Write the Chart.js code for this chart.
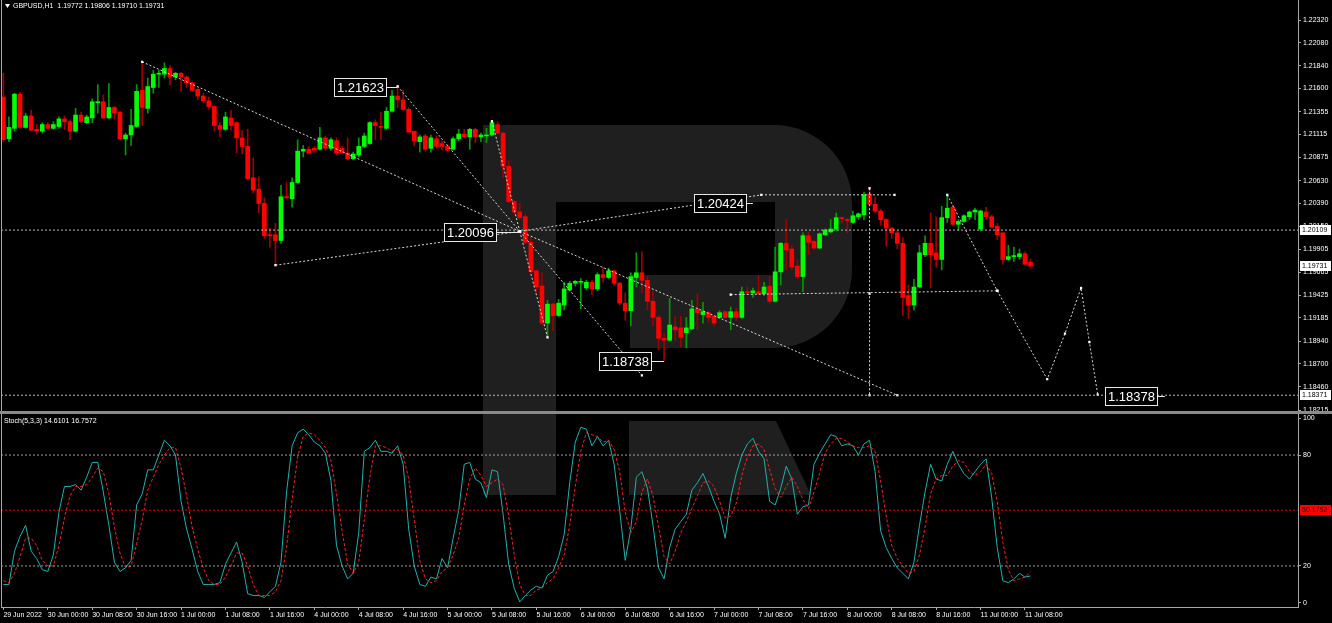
<!DOCTYPE html>
<html>
<head>
<meta charset="utf-8">
<script src="https://cdn.jsdelivr.net/npm/chart.js@4.4.0/dist/chart.umd.min.js"></script>
<style>
html, body { margin: 0; padding: 0; background: #000; overflow: hidden; }
#wrap { position: relative; width: 1332px; height: 623px; }
canvas { position: absolute; left: 0; }
#main { top: 0; }
#stoch { top: 413px; }
</style>
</head>
<body>
<div id="wrap">
  <canvas id="main" width="1332" height="413"></canvas>
  <canvas id="stoch" width="1332" height="210"></canvas>
</div>
<script>
// ---- data ----
const symbol = 'GBPUSD,H1';
const lastBar = [1.19772, 1.19806, 1.19710, 1.19731];
const stochTitle = 'Stoch(5,3,3)';
const stochLast = [14.6101, 16.7572];

const timeLabels = ['29 Jun 2022', '30 Jun 00:00', '30 Jun 08:00', '30 Jun 16:00', '1 Jul 00:00', '1 Jul 08:00',
    '1 Jul 16:00', '4 Jul 00:00', '4 Jul 08:00', '4 Jul 16:00', '5 Jul 00:00', '5 Jul 08:00', '5 Jul 16:00',
    '6 Jul 00:00', '6 Jul 08:00', '6 Jul 16:00', '7 Jul 00:00', '7 Jul 08:00', '7 Jul 16:00', '8 Jul 00:00',
    '8 Jul 08:00', '8 Jul 16:00', '11 Jul 00:00', '11 Jul 08:00'];
const timeTickBars = [0, 8, 16, 24, 32, 40, 48, 56, 64, 72, 80, 88, 96, 104, 112, 120, 128, 136, 144, 152, 160, 168, 176, 184];

const priceTicks = [1.22320, 1.22080, 1.21840, 1.21600, 1.21355, 1.21115, 1.20875, 1.20630, 1.20390,
    1.20150, 1.19905, 1.19665, 1.19425, 1.19185, 1.18940, 1.18700, 1.18460, 1.18215];
const stochTicks = [100, 80, 20, 0];
const stochLevels = [80, 20];
const stochMid = 50.1752;

const opens = [1.2151,1.2107,1.2118,1.2154,1.2119,1.2131,1.2117,1.2115,1.2122,1.2118,
    1.2120,1.2128,1.2125,1.2115,1.2132,1.2124,1.2129,1.2145,1.2146,1.2129,
    1.2140,1.2135,1.2107,1.2111,1.2120,1.2158,1.2139,1.2161,1.2175,1.2175,
    1.2181,1.2172,1.2176,1.2172,1.2166,1.2159,1.2152,1.2147,1.2141,1.2121,
    1.2117,1.2129,1.2124,1.2108,1.2099,1.2066,1.2054,1.2039,1.2006,1.2006,
    1.2000,1.2046,1.2044,1.2061,1.2094,1.2096,1.2097,1.2096,1.2108,1.2097,
    1.2105,1.2097,1.2092,1.2086,1.2090,1.2099,1.2102,1.2124,1.2120,1.2118,
    1.2136,1.2152,1.2148,1.2138,1.2115,1.2104,1.2110,1.2097,1.2107,1.2102,
    1.2099,1.2096,1.2107,1.2112,1.2109,1.2117,1.2109,1.2110,1.2111,1.2122,
    1.2113,1.2078,1.2041,1.2030,1.2025,1.1998,1.1968,1.1952,1.1913,1.1933,
    1.1921,1.1932,1.1948,1.1955,1.1956,1.1950,1.1956,1.1949,1.1964,1.1961,
    1.1968,1.1955,1.1934,1.1926,1.1961,1.1966,1.1958,1.1936,1.1919,1.1897,
    1.1895,1.1909,1.1908,1.1903,1.1907,1.1928,1.1922,1.1924,1.1920,1.1919,
    1.1925,1.1919,1.1925,1.1919,1.1946,1.1945,1.1946,1.1944,1.1952,1.1936,
    1.1967,1.1997,1.1991,1.1973,1.1962,1.2005,1.1999,1.1992,1.2006,1.2009,
    1.2012,1.2024,1.2022,1.2019,1.2025,1.2027,1.2049,1.2038,1.2031,1.2022,
    1.2013,1.2008,1.1997,1.1942,1.1932,1.1951,1.1985,1.1997,1.1987,1.1980,
    1.2024,1.2035,1.2017,1.2020,1.2025,1.2030,1.2012,1.2030,1.2025,1.2015,
    1.2008,1.1980,1.1983,1.1983,1.1986,1.19772];
const highs = [1.2176,1.2130,1.2155,1.2156,1.2134,1.2137,1.2122,1.2124,1.2124,1.2125,
    1.2130,1.2131,1.2127,1.2139,1.2135,1.2132,1.2149,1.2164,1.2153,1.2165,
    1.2141,1.2136,1.2113,1.2138,1.2164,1.2187,1.2171,1.2179,1.2179,1.2187,
    1.2184,1.2177,1.2177,1.2173,1.2167,1.2160,1.2155,1.2151,1.2142,1.2124,
    1.2135,1.2137,1.2125,1.2116,1.2117,1.2087,1.2067,1.2045,1.2013,1.2018,
    1.2058,1.2061,1.2066,1.2106,1.2100,1.2099,1.2099,1.2119,1.2110,1.2108,
    1.2108,1.2099,1.2108,1.2093,1.2108,1.2113,1.2125,1.2127,1.2135,1.2140,
    1.2158,1.21623,1.2158,1.2140,1.2115,1.2111,1.2112,1.2111,1.2110,1.2105,
    1.2101,1.2109,1.2117,1.2117,1.2118,1.2118,1.2113,1.2118,1.2126,1.2125,
    1.2114,1.2084,1.2042,1.2039,1.2027,1.2003,1.1969,1.1966,1.1937,1.1934,
    1.1938,1.1956,1.1957,1.1958,1.1960,1.1958,1.1958,1.1966,1.1972,1.1971,
    1.1969,1.1956,1.1945,1.1966,1.1987,1.1988,1.1962,1.1946,1.1921,1.1902,
    1.1939,1.1920,1.1920,1.1919,1.1937,1.1944,1.1935,1.1925,1.1921,1.1926,
    1.1926,1.1930,1.1929,1.1951,1.1951,1.1950,1.1963,1.1956,1.1962,1.1993,
    1.1998,1.2022,1.1995,1.1980,1.2008,1.2009,1.2000,1.2008,1.2012,1.2022,
    1.2029,1.2025,1.2023,1.2031,1.2029,1.2051,1.2055,1.2046,1.2033,1.2023,
    1.2014,1.2010,1.2003,1.1953,1.1959,1.1995,1.2005,1.2029,1.2025,1.2036,
    1.2048,1.2037,1.2022,1.2027,1.2031,1.2034,1.2032,1.2035,1.2027,1.2018,
    1.2008,1.1995,1.1993,1.1991,1.1988,1.19806];
const lows = [1.2104,1.2104,1.2115,1.2118,1.2118,1.2115,1.2112,1.2113,1.2117,1.2117,
    1.2118,1.2117,1.2106,1.2114,1.2124,1.2123,1.2124,1.2134,1.2128,1.2128,
    1.2128,1.2106,1.2090,1.2100,1.2119,1.2121,1.2134,1.2155,1.2161,1.2171,
    1.2164,1.2169,1.2157,1.2161,1.2157,1.2148,1.2145,1.2138,1.2115,1.2109,
    1.2116,1.2116,1.2092,1.2091,1.2064,1.2050,1.2029,1.2002,1.1993,1.1974,
    1.1997,1.2044,1.2035,1.2060,1.2088,1.2091,1.2093,1.2095,1.2095,1.2095,
    1.2090,1.2091,1.2085,1.2085,1.2088,1.2098,1.2101,1.2106,1.2106,1.2117,
    1.2135,1.2140,1.2137,1.2114,1.2100,1.2093,1.2094,1.2093,1.2097,1.2095,
    1.2093,1.2095,1.2105,1.2108,1.2096,1.2103,1.2104,1.2103,1.2110,1.2112,
    1.2066,1.2040,1.2027,1.2022,1.1997,1.1966,1.1945,1.1911,1.1898,1.1905,
    1.1920,1.1927,1.1947,1.1952,1.1928,1.1948,1.1943,1.1947,1.1956,1.1960,
    1.1953,1.1932,1.1916,1.1910,1.1951,1.1945,1.1927,1.1910,1.1885,1.18738,
    1.1894,1.1895,1.1888,1.1887,1.1906,1.1906,1.1913,1.1914,1.1910,1.1918,
    1.1918,1.1906,1.1916,1.1918,1.1944,1.1940,1.1943,1.1942,1.1934,1.1935,
    1.1953,1.1969,1.1969,1.1960,1.1946,1.1985,1.1990,1.1991,1.2005,1.2008,
    1.2010,1.2018,1.2008,1.2018,1.2022,1.2022,1.2037,1.2029,1.2016,1.1994,
    1.2002,1.1991,1.1921,1.1918,1.1927,1.1950,1.1983,1.1950,1.1972,1.1969,
    1.2019,1.2016,1.2011,1.2019,1.2022,1.2022,1.2010,1.2022,1.2013,1.2001,
    1.1975,1.1979,1.1978,1.1980,1.1974,1.19710];
const closes = [1.2106,1.2119,1.2154,1.2119,1.2131,1.2116,1.2115,1.2122,1.2118,1.2122,
    1.2128,1.2125,1.2115,1.2132,1.2125,1.2130,1.2146,1.2146,1.2129,1.2140,
    1.2134,1.2107,1.2111,1.2121,1.2157,1.2140,1.2162,1.2175,1.2176,1.2181,
    1.2172,1.2176,1.2172,1.2166,1.2158,1.2152,1.2147,1.2141,1.2121,1.2117,
    1.2130,1.2121,1.2108,1.2099,1.2065,1.2053,1.2039,1.2005,1.2005,1.2000,
    1.2046,1.2045,1.2061,1.2094,1.2096,1.2092,1.2095,1.2108,1.2097,1.2106,
    1.2092,1.2092,1.2086,1.2091,1.2099,1.2110,1.2124,1.2121,1.2119,1.2136,
    1.2152,1.2148,1.2138,1.2114,1.2105,1.2109,1.2096,1.2108,1.2099,1.2099,
    1.2095,1.2107,1.2112,1.2109,1.2117,1.2109,1.2111,1.2111,1.2124,1.2113,
    1.2078,1.2041,1.2030,1.2024,1.1998,1.1967,1.1951,1.1913,1.1933,1.1921,
    1.1934,1.1949,1.1955,1.1957,1.1957,1.1956,1.1949,1.1964,1.1961,1.1968,
    1.1955,1.1934,1.1926,1.1962,1.1966,1.1958,1.1936,1.1919,1.1897,1.1895,
    1.1911,1.1906,1.1898,1.1908,1.1928,1.1924,1.1925,1.1919,1.1913,1.1924,
    1.1919,1.1925,1.1919,1.1946,1.1945,1.1947,1.1944,1.1951,1.1936,1.1967,
    1.1997,1.1990,1.1972,1.1962,1.2005,1.1998,1.1992,1.2007,1.2011,1.2012,
    1.2024,1.2023,1.2021,1.2026,1.2028,1.2048,1.2038,1.2031,1.2022,1.2013,
    1.2008,1.1997,1.1940,1.1932,1.1951,1.1987,1.1997,1.1985,1.1980,1.2024,
    1.2034,1.2017,1.2020,1.2026,1.2030,1.2032,1.2031,1.2025,1.2014,1.2006,
    1.1980,1.1983,1.1984,1.1986,1.1975,1.19731];

const stochK = [10,10,28,36,42,28,24,18,17,26, 49,63,63,64,61,68,76,76,60,42,
    22,17,19,23,53,59,72,72,80,88, 85,80,55,40,29,17,10,10,10,11,
    21,27,33,22,5,4,4,3,6,9, 22,60,85,92,94,91,87,85,81,66,
    31,20,13,16,38,82,84,88,82,82, 81,85,75,40,20,10,9,14,13,24,
    19,35,50,75,76,67,65,57,72,71, 48,21,8,0.5,4,7,9,8,15,17,
    25,37,65,87,95,94,85,90,85,88, 75,50,23,40,68,71,62,42,19,13,
    30,40,44,48,61,65,70,63,55,48, 35,57,70,80,86,89,82,78,55,53,
    62,74,67,48,52,53,75,81,86,91, 90,85,86,85,80,86,88,71,39,30,
    24,19,16,13,22,42,60,75,67,66, 75,82,75,70,67,71,75,78,57,30,
    12,11,13,16,14,14.6101];
const stochD = [12,11,16,25,35,35,31,23,20,20, 31,46,58,63,63,64,68,73,71,59,
    41,27,19,20,32,45,61,68,75,80, 84,84,73,58,41,29,19,12,10,10,
    14,20,27,27,20,10,4,4,4,6, 12,30,56,79,90,92,91,88,84,77,
    59,39,21,16,22,45,68,85,85,84, 82,83,80,67,45,23,13,11,12,17,
    19,26,35,53,67,73,69,63,65,67, 64,47,26,10,4,4,7,8,11,13,
    19,26,42,63,82,92,91,90,87,88, 83,71,49,38,44,60,67,58,41,25,
    21,28,38,44,51,58,65,66,63,55, 46,47,54,69,79,85,86,83,72,62,
    57,63,68,63,56,51,60,70,81,86, 89,89,87,85,84,84,85,82,66,47,
    31,24,20,16,17,26,41,59,67,69, 69,74,77,76,71,69,71,75,70,55,
    33,18,12,13,14,16.7572];

// analysis drawings: [bar index, price]
const waveLines = [
    [[25, 1.2188], [93, 1.20096]],
    [[49, 1.1974], [93, 1.20096]],
    [[71, 1.21623], [93, 1.20096]],
    [[88, 1.21255], [93, 1.20096]],
    [[93, 1.20096], [98, 1.1898]],
    [[93, 1.20096], [115, 1.1858]],
    [[93, 1.20096], [161, 1.18371]],
    [[93, 1.20096], [136.5, 1.2048], [160.5, 1.2048]],
    [[156, 1.2055], [156, 1.1944], [156, 1.18371]],
    [[131, 1.1943], [179, 1.1947]],
    [[170, 1.2048], [179, 1.1947]],
    [[179, 1.1947], [188, 1.1854], [191.2, 1.1902], [194.1, 1.1950], [195.6, 1.1893], [197.1, 1.18378]]
];
const hLevels = [1.20109, 1.18371];
const noteTexts = ['1.21623', '1.20096', '1.20424', '1.18738', '1.18378'];
const noteBars = [71, 93, 135, 119, 209.2];
const notePrices = [1.21623, 1.20096, 1.2040, 1.18738, 1.18378];

// ---- layout / style ----
const X_MIN = -0.43, X_MAX = 233.17;
const FONT = '"Liberation Sans", Arial, sans-serif';
const FRAME = '#a8a8a8';
const LOGO = '#1f1f1f';
const noteGaps = [11, 23, 6, 12, 7];

const bullish = closes.map((c, i) => c >= opens[i]);

// keep chart.js from reserving room for edge tick labels
function noEdgePadding(s) {
    s.paddingTop = 0;
    s.paddingBottom = 0;
    s.paddingLeft = 0;
    s.paddingRight = 0;
}

function candleDatasets() {
    return [
        {
            type: 'bar',
            data: closes.map((c, i) => ({ x: i, y: [lows[i], highs[i]] })),
            backgroundColor: bullish.map(b => b ? '#009a00' : '#a00000'),
            barThickness: 1,
            grouped: false,
            order: 3
        },
        {
            type: 'bar',
            data: closes.map((c, i) => ({ x: i, y: [opens[i], c] })),
            backgroundColor: bullish.map(b => b ? '#00ff00' : '#ff0000'),
            barThickness: 4,
            minBarLength: 1,
            grouped: false,
            order: 2
        }
    ];
}

function drawingDatasets() {
    const sets = hLevels.map(v => ({
        type: 'line',
        data: [{ x: X_MIN, y: v }, { x: X_MAX, y: v }],
        borderColor: '#b8b8b8',
        borderWidth: 1,
        borderDash: [2, 2],
        pointRadius: 0,
        order: 1
    }));
    waveLines.forEach(pts => {
        sets.push({
            type: 'line',
            data: pts.map(p => ({ x: p[0], y: p[1] })),
            borderColor: '#d8d8d8',
            borderWidth: 1,
            borderDash: [2, 2],
            pointStyle: 'rect',
            pointRadius: 1.6,
            pointHoverRadius: 0,
            pointBorderWidth: 0,
            pointBackgroundColor: '#ffffff',
            order: 1
        });
    });
    return sets;
}

const mainDecor = {
    id: 'mainDecor',
    beforeDraw(chart) {
        const ctx = chart.ctx;
        ctx.save();
        ctx.fillStyle = LOGO;
        ctx.fillRect(483, 125, 73, 286);
        ctx.beginPath();
        ctx.roundRect(483, 125, 369, 223, [0, 78, 78, 0]);
        ctx.fill();
        ctx.fillStyle = '#000';
        ctx.fillRect(556, 202, 219, 73);
        ctx.fillRect(556, 275, 74, 73);
        ctx.restore();
    },
    afterDraw(chart) {
        const { ctx, chartArea: a, scales: { x, y } } = chart;
        ctx.save();
        // frame + separator
        ctx.strokeStyle = FRAME;
        ctx.lineWidth = 1;
        ctx.beginPath();
        ctx.moveTo(a.left + 0.5, a.top);
        ctx.lineTo(a.left + 0.5, a.bottom);
        ctx.stroke();
        ctx.fillStyle = '#8a8a8a';
        ctx.fillRect(0, 411, chart.width, 2);

        // header
        ctx.fillStyle = '#fff';
        ctx.beginPath();
        ctx.moveTo(5, 4); ctx.lineTo(10, 4); ctx.lineTo(7.5, 8); ctx.closePath();
        ctx.fill();
        ctx.font = `7px ${FONT}`;
        ctx.textBaseline = 'middle';
        ctx.textAlign = 'left';
        ctx.fillText(`${symbol}  ${lastBar.map(v => v.toFixed(5)).join(' ')}`, 13, 6.5);

        // price notes
        ctx.font = `13px ${FONT}`;
        noteTexts.forEach((t, i) => {
            const px = x.getPixelForValue(noteBars[i]);
            const py = Math.round(y.getPixelForValue(notePrices[i])) + 1;
            const w = Math.round(ctx.measureText(t).width) + 6, h = 19;
            const right = Math.round(px - noteGaps[i]);
            const left = right - w;
            ctx.fillStyle = '#000';
            ctx.fillRect(left, py - 9, w, h);
            ctx.strokeStyle = '#e8e8e8';
            ctx.strokeRect(left + 0.5, py - 8.5, w - 1, h - 1);
            ctx.beginPath();
            ctx.moveTo(right, py + 0.5);
            ctx.lineTo(px, py + 0.5);
            ctx.stroke();
            ctx.fillStyle = '#fff';
            ctx.fillText(t, left + 3, py + 1.5);
        });

        // axis value boxes
        ctx.font = `7px ${FONT}`;
        [hLevels[0], lastBar[3], hLevels[1]].forEach(v => {
            const py = Math.round(y.getPixelForValue(v));
            ctx.fillStyle = '#fff';
            ctx.fillRect(a.right + 2, py - 5, 31, 10);
            ctx.fillStyle = '#000';
            ctx.fillText(v.toFixed(5), a.right + 4, py + 0.5);
        });
        ctx.restore();
    }
};

const stochDecor = {
    id: 'stochDecor',
    beforeDraw(chart) {
        const ctx = chart.ctx;
        ctx.save();
        ctx.fillStyle = LOGO;
        ctx.fillRect(483, 1, 73, 81);
        ctx.beginPath();
        ctx.moveTo(629, 8); ctx.lineTo(776, 8); ctx.lineTo(811, 82); ctx.lineTo(629, 82);
        ctx.closePath();
        ctx.fill();
        ctx.restore();
    },
    afterDraw(chart) {
        const { ctx, chartArea: a, scales: { y } } = chart;
        ctx.save();
        ctx.fillStyle = '#8a8a8a';
        ctx.fillRect(0, 0, chart.width, 1);
        ctx.strokeStyle = FRAME;
        ctx.lineWidth = 1;
        ctx.beginPath();
        ctx.moveTo(a.left + 0.5, a.top);
        ctx.lineTo(a.left + 0.5, a.bottom);
        ctx.stroke();

        ctx.font = `7px ${FONT}`;
        ctx.textBaseline = 'middle';
        ctx.textAlign = 'left';
        ctx.fillStyle = '#fff';
        ctx.fillText(`${stochTitle} ${stochLast.map(v => v.toFixed(4)).join(' ')}`, 4, 8);

        const py = Math.round(y.getPixelForValue(stochMid));
        ctx.fillStyle = '#ff0000';
        ctx.fillRect(a.right + 2, py - 5, 31, 10);
        ctx.fillStyle = '#300000';
        ctx.fillText(stochMid.toFixed(4), a.right + 4, py + 0.5);
        ctx.restore();
    }
};

Chart.defaults.font.family = FONT;

new Chart(document.getElementById('main'), {
    type: 'bar',
    data: { datasets: [...candleDatasets(), ...drawingDatasets()] },
    options: {
        responsive: false,
        animation: false,
        events: [],
        layout: { autoPadding: false, padding: { left: 1, top: 0, right: 0, bottom: 2 } },
        plugins: { legend: { display: false }, tooltip: { enabled: false } },
        scales: {
            x: { type: 'linear', min: X_MIN, max: X_MAX, display: false, offset: false },
            y: {
                position: 'right',
                min: 1.18205,
                max: 1.22531,
                afterBuildTicks: s => { s.ticks = priceTicks.map(v => ({ value: v })); },
                afterFit: s => { s.width = 34; noEdgePadding(s); },
                ticks: {
                    color: '#ffffff',
                    font: { size: 7 },
                    padding: 2,
                    autoSkip: false,
                    callback: v => v.toFixed(5)
                },
                grid: { drawOnChartArea: false, color: FRAME, tickLength: 3 },
                border: { color: FRAME }
            }
        }
    },
    plugins: [mainDecor]
});

const levelSets = stochLevels.map(v => ({
    data: [{ x: X_MIN, y: v }, { x: X_MAX, y: v }],
    borderColor: '#a0a0a0',
    borderWidth: 1,
    borderDash: [2, 2],
    pointRadius: 0
}));

new Chart(document.getElementById('stoch'), {
    type: 'line',
    data: {
        datasets: [
            ...levelSets,
            {
                data: [{ x: X_MIN, y: stochMid }, { x: X_MAX, y: stochMid }],
                borderColor: '#e00000',
                borderWidth: 1,
                borderDash: [2, 2],
                pointRadius: 0
            },
            {
                data: stochD.map((v, i) => ({ x: i, y: v })),
                borderColor: '#ff2020',
                borderWidth: 1,
                borderDash: [3, 2],
                pointRadius: 0
            },
            {
                data: stochK.map((v, i) => ({ x: i, y: v })),
                borderColor: '#20b2aa',
                borderWidth: 1,
                pointRadius: 0
            }
        ]
    },
    options: {
        responsive: false,
        animation: false,
        events: [],
        layout: { autoPadding: false, padding: { left: 1, top: 1, right: 0, bottom: 0 } },
        plugins: { legend: { display: false }, tooltip: { enabled: false } },
        scales: {
            x: {
                type: 'linear',
                min: X_MIN,
                max: X_MAX,
                afterBuildTicks: s => { s.ticks = timeTickBars.map(v => ({ value: v })); },
                afterFit: s => { s.height = 16; noEdgePadding(s); },
                ticks: {
                    color: '#ffffff',
                    font: { size: 7 },
                    padding: 1,
                    align: 'start',
                    maxRotation: 0,
                    autoSkip: false,
                    callback: (v, i) => timeLabels[i]
                },
                grid: { drawOnChartArea: false, color: FRAME, tickLength: 3 },
                border: { color: FRAME }
            },
            y: {
                position: 'right',
                min: -2.2,
                max: 102.2,
                afterBuildTicks: s => { s.ticks = stochTicks.map(v => ({ value: v })); },
                afterFit: s => { s.width = 34; noEdgePadding(s); },
                ticks: { color: '#ffffff', font: { size: 7 }, padding: 2, autoSkip: false },
                grid: { drawOnChartArea: false, color: FRAME, tickLength: 3 },
                border: { color: FRAME }
            }
        }
    },
    plugins: [stochDecor]
});
</script>
</body>
</html>
